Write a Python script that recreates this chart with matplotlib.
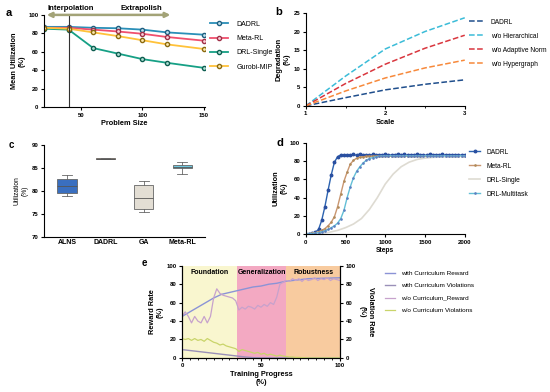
import matplotlib.pyplot as plt
import numpy as np

plt.rcParams['font.family'] = ['Liberation Sans', 'DejaVu Sans']
plt.rcParams['font.size'] = 5
plt.rcParams['axes.linewidth'] = 0.8

# ---- panel a data
sizes = [20, 40, 60, 80, 100, 120, 150]
util_dadrl = [87, 87, 86, 85.5, 84, 81, 78.5]
util_meta = [86, 86, 84, 82, 79.5, 76, 72]
util_single = [85, 84, 64, 58, 52, 48, 42.5]
util_gurobi = [86, 85, 81, 77, 72.5, 68, 63]

# ---- panel b data
scales = [1, 1.5, 2, 2.5, 3]
deg_dadrl = [0, 2.2, 4.3, 5.8, 7]
deg_hier = [0, 8, 15.3, 20, 23.7]
deg_norm = [0, 6, 11.2, 15.5, 19]
deg_hyper = [0, 4, 7.5, 10.2, 12.3]

# ---- panel c data (box statistics)
box_names = ['ALNS', 'DADRL', 'GA', 'Meta-RL']
box_low = [79, 86.9, 75.5, 83.7]
box_q1 = [79.5, 86.9, 76.2, 85]
box_med = [81, 87, 78.5, 85.2]
box_q3 = [82.7, 87.1, 81.3, 85.7]
box_high = [83.5, 87.1, 82.2, 86.4]

# ---- panel d data
steps_fine = list(range(0, 2001, 40))
steps_coarse = list(range(0, 2001, 100))
curve_dadrl = [0, 0.5, 1, 2, 5, 15, 30, 48, 65, 79, 85, 87, 86.5, 87, 86.5, 87.5, 86.5, 88,
               86.5, 87, 86.5, 87.5, 86.5, 87, 86.5, 87.5, 86.5, 87, 86.5, 88, 86.5, 87.5,
               86.5, 87, 86.5, 87.5, 86.5, 87, 86.5, 87.5, 86.5, 87, 86.5, 87.5, 86.5, 87,
               86.5, 87, 86.5, 87, 86.5]
curve_meta = [0, 0.3, 0.8, 1.5, 2.5, 4, 6, 9, 13, 19, 30, 44, 58, 68, 77, 81, 83.5, 84.5,
              85, 85.3, 85.5, 85.5, 85.6, 85.5, 85.5, 85.6, 85.5, 85.5, 85.6, 85.5, 85.5,
              85.6, 85.5, 85.5, 85.6, 85.5, 85.5, 85.6, 85.5, 85.5, 85.6, 85.5, 85.5, 85.6,
              85.5, 85.5, 85.6, 85.5, 85.5, 85.6, 85.5]
curve_multi = [0, 0.2, 0.5, 1, 1.5, 2.5, 3.5, 5, 7, 9, 12, 17, 26, 40, 52, 62, 69, 74, 78,
               81, 83, 84, 85, 85.5, 86, 86, 86, 86, 86, 86, 86, 86, 86, 86, 86, 86, 86, 86,
               86, 86, 86, 86, 86, 86, 86, 86, 86, 86, 86, 86, 86]
curve_single = [0, 0.5, 1, 2, 4, 7, 11, 17, 27, 40, 55, 66, 74, 79, 82, 83.5, 84.3, 84.7,
                85, 85.2, 85.3]

# ---- panel e data
prog_smooth = [0, 5, 10, 15, 20, 25, 30, 35, 40, 45, 50, 55, 60, 65, 70, 75, 80, 90, 100]
rew_with = [45, 50, 55, 60, 65, 69, 71, 73, 75, 77, 78, 80, 81, 83, 84, 85, 86, 86.5, 87]
viol_with = [9, 8, 7, 6, 5, 4, 3, 2, 1, 0.3, 0, 0, 0, 0, 0, 0, 0, 0, 0]
prog = list(range(0, 101, 2))
rew_without = [45, 50, 45, 38, 45, 40, 38, 45, 38, 45, 65, 75, 70, 68, 67, 66, 65, 62, 52,
               55, 53, 56, 55, 53, 57, 55, 58, 56, 60, 58, 66, 80, 82, 84, 83, 86, 84, 86,
               83, 86, 84, 85, 87, 84, 86, 85, 87, 84, 86, 85, 84]
viol_without = [21, 20, 21, 19, 21, 19, 20, 18, 21, 19, 17, 16, 14, 15, 13, 12, 11, 10, 7,
                9, 8, 7, 6, 5, 6, 4, 5, 3, 4, 3, 2, 3, 2, 1.5, 1, 1, 0.5, 0.5, 0.3, 0.2, 0,
                0, 0, 0, 0, 0, 0, 0, 0, 0, 0]

fig = plt.figure(figsize=(5.5, 3.92), dpi=100)

TICK = 4.3
LAB = 5.3
LEG = 5.0


def prism(ax):
    ax.spines['top'].set_visible(False)
    ax.spines['right'].set_visible(False)
    ax.tick_params(labelsize=TICK, width=0.8, length=2.5, pad=1.5)
    for t in ax.get_xticklabels() + ax.get_yticklabels():
        t.set_fontweight('bold')


# ---------------- a
ax = fig.add_axes([0.08, 0.727, 0.293, 0.235])
ax.plot(sizes, util_dadrl, '-o', color='#2a8fb8', mec='#1f5f80', mfc='#bfe3ef', ms=3, lw=1.3, label='DADRL')
ax.plot(sizes, util_meta, '-o', color='#f0506e', mec='#a03048', mfc='#fbd0d8', ms=3, lw=1.3, label='Meta-RL')
ax.plot(sizes, util_single, '-o', color='#16a085', mec='#0e5e50', mfc='#aee0d4', ms=3, lw=1.3, label='DRL-Single')
ax.plot(sizes, util_gurobi, '-o', color='#ffc23a', mec='#8a6a10', mfc='#ffeab0', ms=3, lw=1.3, label='Gurobi-MIP')
ax.axvline(40, color='#333333', lw=0.8)
ax.axvline(20, color='k', lw=1.4, ls=(0, (2, 1.5)))
ax.annotate('', xy=(20, 100), xytext=(125, 100),
            arrowprops=dict(arrowstyle='<|-|>', color='#a3a377', lw=1.8, mutation_scale=7),
            annotation_clip=False)
ax.text(42, 103, 'Interpolation', ha='center', va='bottom', fontsize=5.5, fontweight='bold')
ax.text(99, 103, 'Extrapolish', ha='center', va='bottom', fontsize=5.5, fontweight='bold')
ax.set_xlim(20, 151)
ax.set_ylim(0, 100)
ax.set_xticks([50, 100, 150])
ax.set_yticks([0, 20, 40, 60, 80, 100])
ax.set_xlabel('Problem Size', fontsize=LAB, fontweight='bold', labelpad=2)
ax.set_ylabel('Mean Utilization\n(%)', fontsize=LAB, fontweight='bold', labelpad=2)
prism(ax)
ax.legend(loc='upper left', bbox_to_anchor=(1.0, 0.99), frameon=False, fontsize=LEG,
          handlelength=2.6, handletextpad=1.2, labelspacing=1.05, borderaxespad=0.3)
fig.text(0.01, 0.96, 'a', fontsize=8, fontweight='bold')

# ---------------- b
ax = fig.add_axes([0.556, 0.73, 0.289, 0.237])
ax.plot(scales, deg_dadrl, '--', color='#1f4e8c', lw=1.1, label='DADRL')
ax.plot(scales, deg_hier, '--', color='#3bbcd8', lw=1.1, label='w/o Hierarchical')
ax.plot(scales, deg_norm, '--', color='#d9363e', lw=1.1, label='w/o Adaptive Norm')
ax.plot(scales, deg_hyper, '--', color='#f7893b', lw=1.1, label='w/o Hypergraph')
ax.set_xlim(1, 3)
ax.set_ylim(0, 25)
ax.set_xticks([1, 2, 3])
ax.set_xticks([1.5, 2.5], minor=True)
ax.tick_params(which='minor', length=1.5)
ax.set_yticks([0, 5, 10, 15, 20, 25])
ax.set_xlabel('Scale', fontsize=LAB, fontweight='bold', labelpad=2)
ax.set_ylabel('Degradation\n(%)', fontsize=LAB, fontweight='bold', labelpad=2)
prism(ax)
ax.legend(loc='upper left', bbox_to_anchor=(1.0, 0.99), frameon=False, fontsize=4.8,
          handlelength=2.2, handletextpad=1.0, labelspacing=1.05, borderaxespad=0.3)
fig.text(0.5, 0.962, 'b', fontsize=8, fontweight='bold')

# ---------------- c
ax = fig.add_axes([0.08, 0.395, 0.293, 0.235])
stats = []
for i in range(len(box_names)):
    stats.append(dict(label=box_names[i], whislo=box_low[i], q1=box_q1[i], med=box_med[i],
                      q3=box_q3[i], whishi=box_high[i], fliers=[]))
bp = ax.bxp(stats, positions=[1, 2, 3, 4], widths=0.5, patch_artist=True,
            medianprops=dict(color='#555555', lw=0.6),
            whiskerprops=dict(color='#666666', lw=0.6),
            capprops=dict(color='#666666', lw=0.6),
            boxprops=dict(color='#666666', lw=0.6))
for patch, c in zip(bp['boxes'], ['#3a6fc0', '#c9884a', '#e3ded4', '#6ec8df']):
    patch.set_facecolor(c)
ax.set_ylim(70, 90)
ax.set_xlim(0.4, 4.6)
ax.set_yticks([70, 75, 80, 85, 90])
ax.set_ylabel('Utilization\n(%)', fontsize=4.8, labelpad=2)
prism(ax)
ax.tick_params(axis='x', length=0, labelsize=5)
fig.text(0.015, 0.622, 'c', fontsize=7, fontweight='bold')

# ---------------- d
ax = fig.add_axes([0.556, 0.403, 0.289, 0.232])
ax.plot(steps_fine, curve_dadrl, '-o', color='#2c63b0', mfc='#2a4fa0', mec='#2a4fa0', ms=1.8, lw=1.0, label='DADRL')
ax.plot(steps_fine, curve_meta, '-o', color='#c99670', mfc='#b08a5a', mec='#b08a5a', ms=0.9, lw=1.0, label='Meta-RL')
ax.plot(steps_coarse, curve_single, '-', color='#dedbd2', lw=1.2, label='DRL-Single')
ax.plot(steps_fine, curve_multi, '-o', color='#63bfd6', mfc='#5b7fc0', mec='#5b7fc0', ms=0.9, lw=1.0, label='DRL-Multitask')
ax.set_xlim(0, 2000)
ax.set_ylim(0, 100)
ax.set_xticks([0, 500, 1000, 1500, 2000])
ax.set_yticks([0, 20, 40, 60, 80, 100])
ax.set_xlabel('Steps', fontsize=4.8, fontweight='bold', labelpad=2)
ax.set_ylabel('Utilization\n(%)', fontsize=LAB, fontweight='bold', labelpad=2)
prism(ax)
ax.legend(loc='upper left', bbox_to_anchor=(1.0, 0.99), frameon=False, fontsize=4.8,
          handlelength=1.6, handletextpad=1.0, labelspacing=1.05, borderaxespad=0.3)
fig.text(0.502, 0.628, 'd', fontsize=8, fontweight='bold')

# ---------------- e
ax = fig.add_axes([0.331, 0.087, 0.287, 0.235])
ax.axvspan(0, 35, color='#f9f6cf', lw=0)
ax.axvspan(35, 66, color='#f3a9c2', lw=0)
ax.axvspan(66, 100, color='#f8cb9f', lw=0)
ax.text(17.5, 93, 'Foundation', ha='center', va='center', fontsize=5, fontweight='bold')
ax.text(50.5, 93, 'Generalization', ha='center', va='center', fontsize=5, fontweight='bold')
ax.text(83, 93, 'Robustness', ha='center', va='center', fontsize=5, fontweight='bold')
l1, = ax.plot(prog_smooth, rew_with, color='#8b93d6', lw=1.0, label='with Curriculum Reward')
ax2 = ax.twinx()
l2, = ax2.plot(prog_smooth, viol_with, color='#9a90b8', lw=1.0, label='with Curriculum Violations')
l3, = ax.plot(prog, rew_without, color='#c7a2cc', lw=0.9, label='w/o Curriculum_Reward')
l4, = ax2.plot(prog, viol_without, color='#c9d46a', lw=0.9, label='w/o Curriculum Violations')
for a_ in (ax, ax2):
    a_.set_xlim(0, 100)
    a_.set_ylim(0, 100)
    a_.set_yticks([0, 20, 40, 60, 80, 100])
    a_.spines['top'].set_visible(False)
    a_.tick_params(labelsize=TICK, width=0.8, length=2.5, pad=1.5)
    for t in a_.get_xticklabels() + a_.get_yticklabels():
        t.set_fontweight('bold')
ax.set_xticks([0, 50, 100])
ax.set_xticks(list(range(0, 101, 5)), minor=True)
ax.tick_params(which='minor', length=1.5)
ax.set_xlabel('Training Progress\n(%)', fontsize=LAB, fontweight='bold', labelpad=2)
ax.set_ylabel('Reward Rate\n(%)', fontsize=LAB, fontweight='bold', labelpad=2)
ax2.set_ylabel('Violation Rate\n(%)', fontsize=LAB, fontweight='bold', rotation=270, labelpad=13)
fig.legend(handles=[l1, l2, l3, l4], loc='upper left', bbox_to_anchor=(0.69, 0.325),
           frameon=False, fontsize=4.6, handlelength=1.5, handletextpad=0.9, labelspacing=1.1)
fig.text(0.258, 0.322, 'e', fontsize=7, fontweight='bold')

fig.savefig('out.png', dpi=100)
